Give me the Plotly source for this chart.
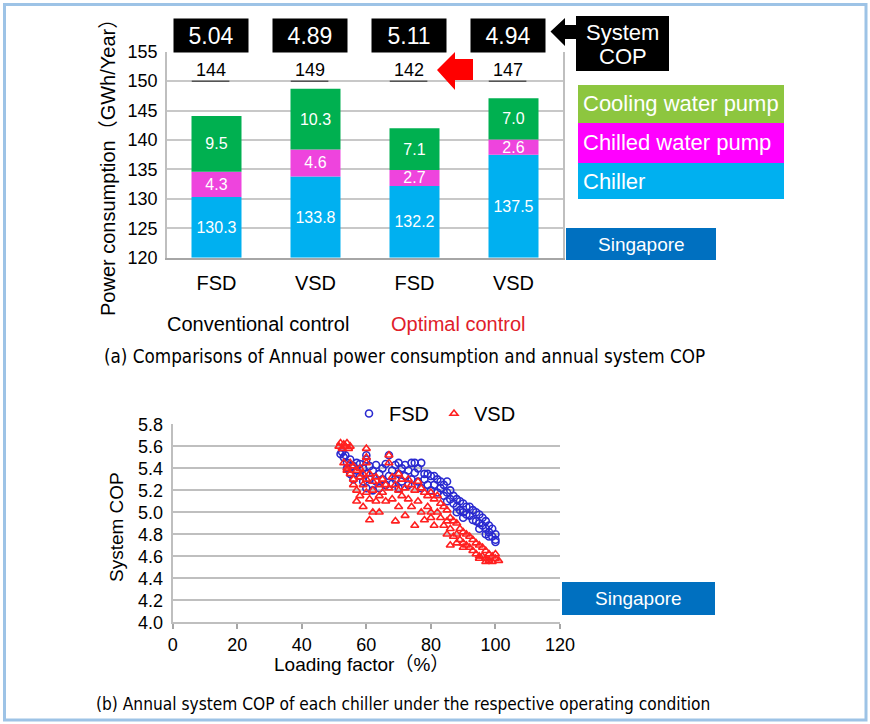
import plotly.graph_objects as go

# ---------------- data ----------------
drive_types = ["FSD", "VSD", "FSD", "VSD"]
control_groups = ["Conventional control", "Optimal control"]
chiller = [130.3, 133.8, 132.2, 137.5]
chilled_water_pump = [4.3, 4.6, 2.7, 2.6]
cooling_water_pump = [9.5, 10.3, 7.1, 7.0]
annual_totals = [144, 149, 142, 147]
system_cop = [5.04, 4.89, 5.11, 4.94]
legend_labels = ["Cooling water pump", "Chilled water pump", "Chiller"]
bar_axis_range = [120, 155]

fsd_load = [52, 52.5, 53, 53.5, 54, 54, 55, 55, 56, 56, 57, 57, 58, 58, 59, 59,
            60, 60, 60, 60, 61, 61, 62, 62, 63, 63, 64, 64, 65, 65, 66, 66, 67, 67,
            68, 68, 69, 69, 70, 70, 70, 71, 71, 72, 72, 73, 73, 74, 74, 75, 75, 76,
            76, 77, 77, 78, 78, 79, 79, 80, 80, 81, 81, 82, 82, 83, 83, 84, 84, 85,
            85, 85, 86, 86, 87, 87, 88, 88, 88, 89, 89, 90, 90, 90, 91, 91, 92, 92,
            93, 93, 94, 94, 95, 95, 95, 96, 96, 97, 97, 97, 98, 98, 98, 99, 99, 100,
            100, 100]
fsd_cop = [5.53, 5.55, 5.50, 5.52, 5.45, 5.40, 5.48, 5.35, 5.42, 5.30, 5.45, 5.38,
           5.33, 5.44, 5.40, 5.28, 5.48, 5.52, 5.35, 5.22, 5.42, 5.30, 5.38, 5.20,
           5.43, 5.28, 5.35, 5.22, 5.40, 5.30, 5.25, 5.44, 5.52, 5.33, 5.38, 5.26,
           5.43, 5.30, 5.45, 5.35, 5.22, 5.40, 5.28, 5.43, 5.33, 5.38, 5.25, 5.45,
           5.30, 5.45, 5.36, 5.28, 5.40, 5.45, 5.22, 5.35, 5.30, 5.35, 5.25, 5.33,
           5.20, 5.33, 5.25, 5.30, 5.18, 5.28, 5.22, 5.25, 5.15, 5.28, 5.18, 5.10,
           5.20, 5.12, 5.15, 5.08, 5.12, 5.05, 5.00, 5.10, 5.02, 5.08, 5.00, 4.95,
           5.05, 4.98, 5.05, 4.97, 5.02, 4.93, 5.00, 4.92, 4.98, 4.90, 4.85, 4.95,
           4.88, 4.92, 4.85, 4.80, 4.88, 4.82, 4.78, 4.85, 4.78, 4.80, 4.75, 4.73]

vsd_load = [51.5, 52, 52.5, 53, 53.5, 54, 54.5, 55, 53, 54, 54, 55, 55, 56, 56, 56,
            57, 57, 57, 58, 58, 58, 59, 59, 59, 60, 60, 60, 60, 60, 61, 61, 61, 62,
            62, 62, 63, 63, 64, 64, 64, 65, 65, 66, 66, 67, 67, 67, 68, 68, 69, 69,
            70, 70, 70, 71, 71, 72, 72, 73, 73, 74, 74, 75, 75, 76, 76, 77, 77, 78,
            78, 79, 79, 80, 80, 80, 81, 81, 82, 82, 83, 83, 84, 84, 85, 85, 85, 86,
            86, 86, 87, 87, 88, 88, 88, 89, 89, 90, 90, 90, 91, 91, 92, 92, 93, 93,
            94, 94, 95, 95, 95, 96, 96, 97, 97, 97, 98, 98, 99, 99, 100, 100, 101]
vsd_cop = [5.60, 5.63, 5.58, 5.62, 5.60, 5.63, 5.58, 5.60, 5.45, 5.40, 5.38, 5.45,
           5.35, 5.42, 5.30, 5.25, 5.38, 5.10, 5.20, 5.40, 5.32, 5.15, 5.35, 5.25,
           5.05, 5.58, 5.50, 5.45, 5.30, 5.18, 5.35, 4.93, 5.12, 5.28, 5.00, 5.20,
           5.32, 5.10, 5.25, 5.15, 5.00, 5.30, 5.18, 5.25, 5.10, 5.52, 5.45, 5.22,
           5.32, 5.12, 4.92, 5.25, 5.35, 5.20, 5.05, 5.30, 5.15, 4.97, 5.22, 5.30,
           5.12, 5.25, 5.05, 4.88, 5.20, 5.28, 5.10, 5.22, 5.00, 4.93, 5.18, 5.15,
           5.05, 5.18, 5.00, 4.95, 5.12, 4.88, 5.15, 5.00, 5.08, 4.95, 5.05, 4.88,
           5.02, 4.92, 4.80, 4.95, 4.70, 4.85, 4.92, 4.78, 4.90, 4.80, 4.72, 4.85,
           4.75, 4.82, 4.72, 4.68, 4.80, 4.70, 4.78, 4.68, 4.75, 4.65, 4.72, 4.62,
           4.70, 4.60, 4.58, 4.68, 4.60, 4.65, 4.58, 4.55, 4.62, 4.56, 4.60, 4.55,
           4.58, 4.62, 4.56]
scatter_x_range = [0, 120]
scatter_y_range = [4.0, 5.8]

# ---------------- helpers ----------------
W, H = 870, 724
def px(x):
    return x / W
def py(y):
    return 1 - y / H

C_CHILLER = "#00B0F0"
C_CHILLED = "#EE44DD"
C_COOLING = "#00B050"
FONT = "Liberation Sans, Arial, Noto Sans CJK JP, sans-serif"

fig = go.Figure()
xs = list(range(len(drive_types)))
base0 = bar_axis_range[0]

fig.add_bar(x=xs, y=[v - base0 for v in chiller], base=base0, name="Chiller",
            marker=dict(color=C_CHILLER, line=dict(width=0)),
            text=[f"{v:.1f}" for v in chiller])
fig.add_bar(x=xs, y=chilled_water_pump, base=chiller, name="Chilled water pump",
            marker=dict(color=C_CHILLED, line=dict(width=0)),
            text=[f"{v:.1f}" for v in chilled_water_pump])
fig.add_bar(x=xs, y=cooling_water_pump,
            base=[a + b for a, b in zip(chiller, chilled_water_pump)],
            name="Cooling water pump",
            marker=dict(color=C_COOLING, line=dict(width=0)),
            text=[f"{v:.1f}" for v in cooling_water_pump])
fig.update_traces(selector=dict(type="bar"), width=0.505, textposition="inside",
                  insidetextanchor="middle", textangle=0, constraintext="none",
                  textfont=dict(color="white", size=16, family=FONT),
                  showlegend=False, xaxis="x", yaxis="y")

fig.add_scatter(x=fsd_load, y=fsd_cop, mode="markers", name="FSD",
                marker=dict(symbol="circle-open", size=7, color="#2A2AD0",
                            line=dict(width=1.6, color="#2A2AD0")),
                xaxis="x2", yaxis="y2")
fig.add_scatter(x=vsd_load, y=vsd_cop, mode="markers", name="VSD",
                marker=dict(symbol="triangle-up-open", size=7, color="#FF2020",
                            line=dict(width=1.6, color="#FF2020")),
                xaxis="x2", yaxis="y2")

shapes = []
annotations = []

def ann(**kw):
    d = dict(showarrow=False, xanchor="center", yanchor="middle")
    d.update(kw)
    annotations.append(d)

# underlines under totals, totals, COP boxes
for i in xs:
    shapes.append(dict(type="line", xref="x", yref="y", x0=i - 0.25, x1=i + 0.13,
                       y0=150, y1=150, line=dict(color="#555555", width=1.5)))
    ann(xref="x", yref="y", x=i - 0.06, y=151.9, text=str(annual_totals[i]),
        font=dict(size=18, color="black"))
    ann(xref="x", yref="paper", x=i - 0.055, y=py(35.5), text=f"{system_cop[i]:.2f}",
        bgcolor="black", width=74, height=33, borderpad=0,
        font=dict(size=23, color="white"))

def path(points):
    return "M " + " L ".join(f"{px(x):.5f},{py(y):.5f}" for x, y in points) + " Z"

# black arrow to System COP
shapes.append(dict(type="path", xref="paper", yref="paper", fillcolor="black",
                   line=dict(width=0),
                   path=path([(550.5, 31.5), (565, 18), (565, 25), (577, 25),
                              (577, 39), (565, 39), (565, 46)])))
shapes.append(dict(type="rect", xref="paper", yref="paper", fillcolor="black",
                   line=dict(width=0), x0=px(576), x1=px(669), y0=py(71), y1=py(16)))
ann(xref="paper", yref="paper", x=px(622.5), y=py(33), text="System",
    font=dict(size=22, color="white"))
ann(xref="paper", yref="paper", x=px(622.5), y=py(56), text="COP",
    font=dict(size=22, color="white"))

# red arrow
shapes.append(dict(type="path", xref="paper", yref="paper", fillcolor="#FF0000",
                   line=dict(width=0),
                   path=path([(437, 70), (455, 52), (455, 59), (473, 59),
                              (473, 80), (455, 80), (455, 90)])))

# custom legend boxes
leg_boxes = [(85, 123, "#8DC63F"), (123, 163, "#FF00FF"), (163, 199, C_CHILLER)]
for (y0, y1, col), lab in zip(leg_boxes, legend_labels):
    shapes.append(dict(type="rect", xref="paper", yref="paper", fillcolor=col,
                       line=dict(width=0), x0=px(578), x1=px(784), y0=py(y1), y1=py(y0)))
    ann(xref="paper", yref="paper", x=px(581), y=py((y0 + y1) / 2), xanchor="left",
        text=lab, font=dict(size=22, color="white"))

# Singapore labels
for (x0, x1, y0, y1) in [(566, 716, 228, 260), (562, 715, 582, 615)]:
    shapes.append(dict(type="rect", xref="paper", yref="paper", fillcolor="#0070C0",
                       line=dict(width=0), x0=px(x0), x1=px(x1), y0=py(y1), y1=py(y0)))
    ann(xref="paper", yref="paper", x=px((x0 + x1) / 2), y=py((y0 + y1) / 2),
        text="Singapore", font=dict(size=19, color="white"))

# control group labels
ann(xref="paper", yref="paper", x=px(258), y=py(324), text=control_groups[0],
    font=dict(size=20, color="black"))
ann(xref="paper", yref="paper", x=px(458), y=py(324), text=control_groups[1],
    font=dict(size=20, color="#E0202A"))

# axis titles
ann(xref="paper", yref="paper", x=px(108), y=py(163),
    text="Power consumption（GWh/Year）", textangle=-90,
    font=dict(size=20, color="black"))
ann(xref="paper", yref="paper", x=px(116), y=py(527), text="System COP",
    textangle=-90, font=dict(size=19, color="black"))
ann(xref="paper", yref="paper", x=px(361), y=py(664), text="Loading factor（%）",
    font=dict(size=19, color="black"))

# captions
CAP_FONT = "Liberation Sans Narrow, DejaVu Sans Condensed, Arial Narrow, sans-serif"
ann(xref="paper", yref="paper", x=px(102), y=py(356), xanchor="left",
    text="(a) Comparisons of Annual power consumption and annual system COP",
    font=dict(size=18.7, color="black", family=CAP_FONT))
ann(xref="paper", yref="paper", x=px(94), y=py(704), xanchor="left",
    text="(b) Annual system COP of each chiller under the respective operating condition",
    font=dict(size=17.2, color="black", family=CAP_FONT))

# outer frame
shapes.append(dict(type="rect", xref="paper", yref="paper", fillcolor="rgba(0,0,0,0)",
                   line=dict(color="#9DC3E6", width=3),
                   x0=px(4.5), x1=px(866), y0=py(720), y1=py(4.5)))

fig.update_layout(
    width=W, height=H, margin=dict(l=0, r=0, t=0, b=0, pad=0, autoexpand=False),
    paper_bgcolor="white", plot_bgcolor="white",
    font=dict(family=FONT, color="black"),
    barmode="overlay",
    xaxis=dict(domain=[px(167), px(563)], range=[-0.5, 3.5], tickvals=xs,
               ticktext=drive_types, tickfont=dict(size=20), showgrid=False,
               zeroline=False, showline=True, linecolor="#A6A6A6", linewidth=2,
               anchor="y", ticklabelstandoff=6, automargin=False),
    yaxis=dict(domain=[py(257.7), py(51.7)],
               range=[bar_axis_range[0] - 0.01, bar_axis_range[1] + 0.01],
               dtick=5, tick0=0, showgrid=True, gridcolor="#C8C8C8", gridwidth=1.5,
               zeroline=False, showline=True, linecolor="#BFBFBF", linewidth=1.5,
               mirror=True, tickfont=dict(size=18), anchor="x", ticklabelstandoff=4,
               automargin=False),
    xaxis2=dict(domain=[px(172.7), px(560)], range=scatter_x_range, dtick=20,
                ticks="outside", ticklen=5, tickcolor="#A6A6A6", tickwidth=1.5,
                showline=True, linecolor="#BFBFBF", linewidth=2, showgrid=False,
                zeroline=False, anchor="y2", tickfont=dict(size=18), automargin=False),
    yaxis2=dict(domain=[py(622.3), py(424.3)],
                range=[scatter_y_range[0] - 0.001, scatter_y_range[1] + 0.001],
                dtick=0.2, tick0=0, tickformat=".1f", showgrid=True, gridcolor="#BFBFBF",
                gridwidth=2, zeroline=False, showline=True, linecolor="#BFBFBF",
                linewidth=2, anchor="x2", tickfont=dict(size=18), ticklabelstandoff=4,
                automargin=False),
    showlegend=True,
    legend=dict(orientation="h", x=px(349), y=py(394), xanchor="left", yanchor="top",
                font=dict(size=20), bgcolor="rgba(0,0,0,0)", itemwidth=30,
                tracegroupgap=0),
    shapes=shapes, annotations=annotations,
)

fig.write_html("out.html")
